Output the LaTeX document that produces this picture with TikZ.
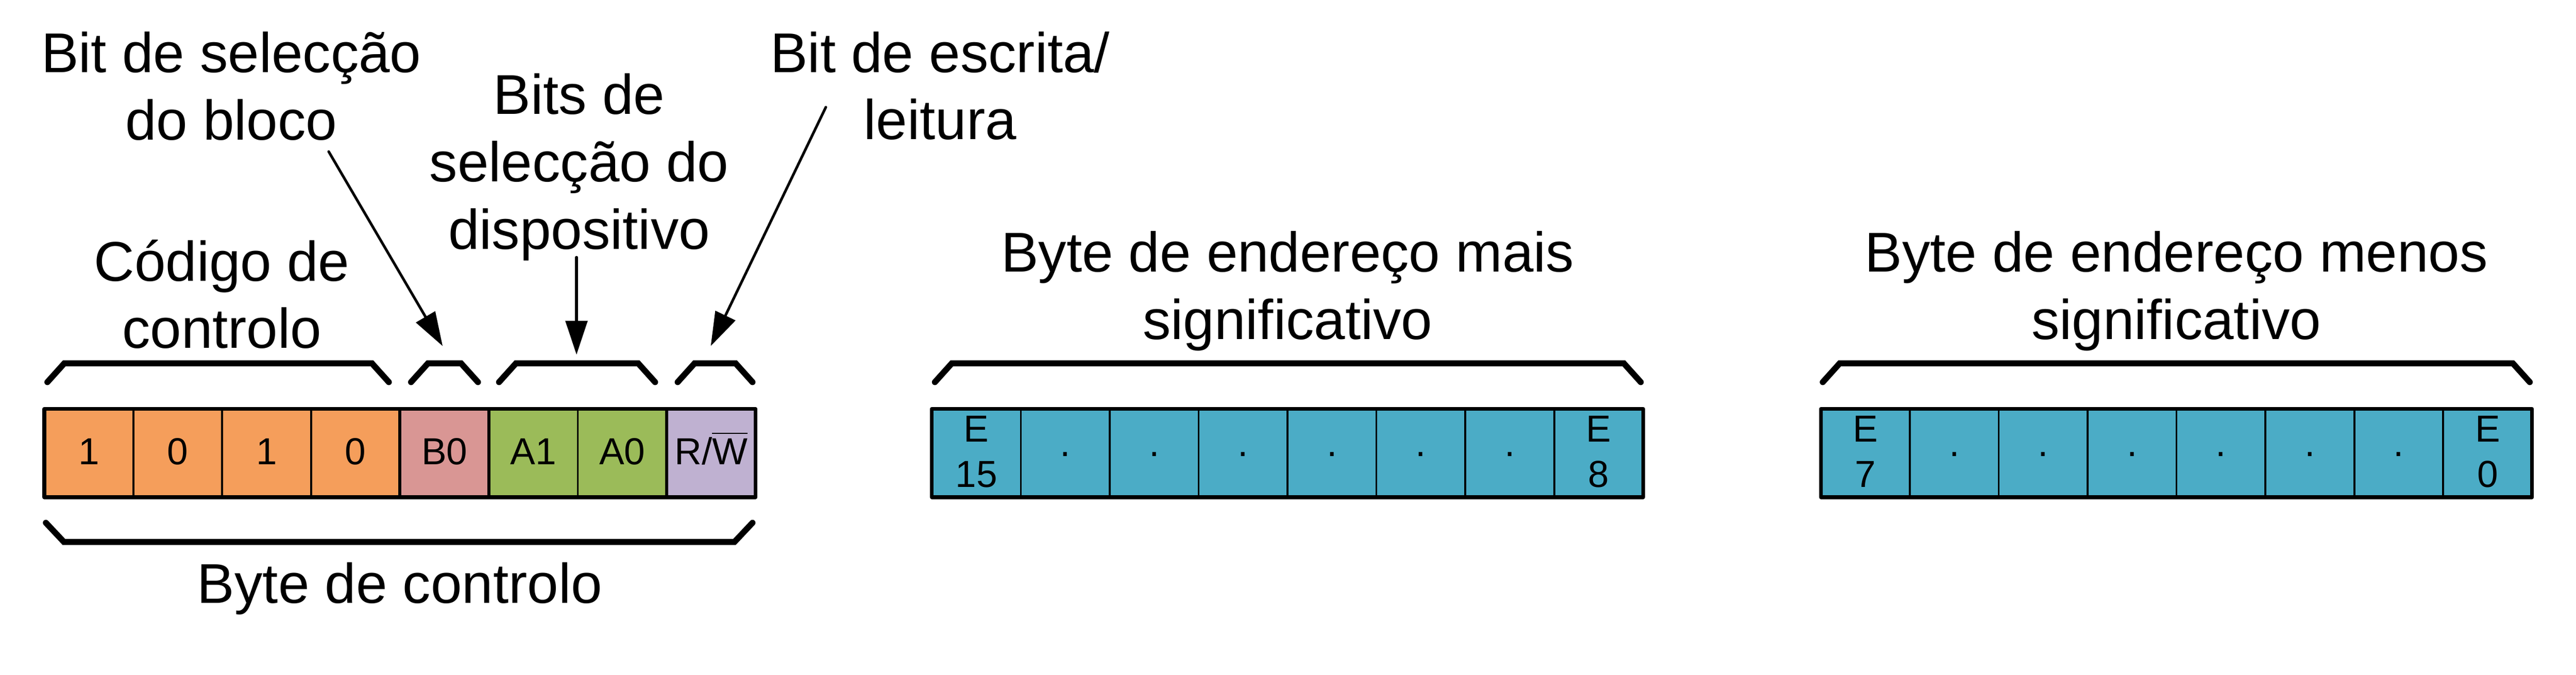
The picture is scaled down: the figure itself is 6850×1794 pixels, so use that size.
\documentclass[tikz,border=0pt]{standalone}
\usepackage{fontspec}
\setmainfont{Liberation Sans}
\usetikzlibrary{arrows.meta}

\definecolor{codigo}{HTML}{F59E5B}
\definecolor{bloco}{HTML}{D99694}
\definecolor{disp}{HTML}{9BBB59}
\definecolor{escrita}{HTML}{BFB1D1}
\definecolor{endereco}{HTML}{4BACC6}

% W com barra por cima
\newcommand{\barW}{\setbox0\hbox{W}\rlap{\rule[8.1mm]{\wd0}{0.35mm}}W}

\tikzset{
  bitcell/.style={draw, line width=0.5mm, minimum width=23.64mm,
    minimum height=23.5mm, inner sep=0pt, outer sep=0pt,
    font=\fontsize{28.45pt}{34.14pt}\selectfont,
    text height=7.2mm, text depth=1.1mm},
  twoline/.style={align=center, text height=19.2mm},
  legenda/.style={anchor=base, align=center,
    font=\fontsize{42.39pt}{50.93pt}\selectfont},
  chaveta/.style={line width=1.6mm, line cap=round, line join=miter},
  seta/.style={line width=0.7mm, line cap=round,
    -{Triangle[length=9mm, width=5.8mm]}},
  moldura/.style={line width=1mm, line join=round}
}

\begin{document}
\begin{tikzpicture}[x=0.1mm, y=-0.1mm]
  \useasboundingbox (0,0) rectangle (6850,1794);

  % byte de controlo
  \foreach \i/\bit/\cor in {0/1/codigo,1/0/codigo,2/1/codigo,3/0/codigo,
      4/B0/bloco,5/A1/disp,6/A0/disp,7/{R/\barW}/escrita}
    \node[bitcell, fill=\cor] (ctl\i) at (236.2+236.4*\i, 1204.5) {\bit};
  \draw[line width=0.8mm] (ctl0.north west) rectangle (ctl3.south east)
    (ctl5.north west) rectangle (ctl6.south east);
  \draw[moldura] (ctl0.north west) rectangle (ctl7.south east);

  % bytes de endereco
  \foreach \i/\bit/\extra in {0/{E\\15}/twoline,1/·/,2/·/,3/·/,4/·/,5/·/,6/·/,7/{E\\8}/twoline}
    \node[bitcell, fill=endereco, \extra] (msb\i) at (2596.2+236.4*\i, 1204.5) {\bit};
  \draw[moldura] (msb0.north west) rectangle (msb7.south east);
  \foreach \i/\bit/\extra in {0/{E\\7}/twoline,1/·/,2/·/,3/·/,4/·/,5/·/,6/·/,7/{E\\0}/twoline}
    \node[bitcell, fill=endereco, \extra] (lsb\i) at (4960.2+236.4*\i, 1204.5) {\bit};
  \draw[moldura] (lsb0.north west) rectangle (lsb7.south east);

  % chavetas
  \foreach \a/\b in {126/1034,1093/1271,1327/1742,1802/2001,2486/4363,4847/6727}
    \draw[chaveta] (\a,1016) -- (\a+45,966) -- (\b-45,966) -- (\b,1016);
  \draw[chaveta] (122,1390) -- (170,1441) -- (1953,1441) -- (2001,1390);

  % legendas (base = ultima linha)
  \node[legenda] (selbloco) at (615,372) {Bit de selecção\\do bloco};
  \node[legenda] (seldisp) at (1540,662) {Bits de\\selecção do\\dispositivo};
  \node[legenda] (escr) at (2500,371) {Bit de escrita/\\leitura};
  \node[legenda] (codctl) at (590,926) {Código de\\controlo};
  \node[legenda] (bytemais) at (3424,902) {Byte de endereço mais\\significativo};
  \node[legenda] (bytemenos) at (5787,902) {Byte de endereço menos\\significativo};
  \node[legenda] (bytectl) at (1063,1603) {Byte de controlo};

  % setas
  \coordinate (selbloco-c) at (874,403);
  \coordinate (selbloco-p) at (1177,920);
  \coordinate (seldisp-c) at (1533,684);
  \coordinate (seldisp-p) at (1533,943);
  \coordinate (escr-c) at (2196,285);
  \coordinate (escr-p) at (1890,920);
  \draw[seta] (selbloco-c) -- (selbloco-p);
  \draw[seta] (seldisp-c) -- (seldisp-p);
  \draw[seta] (escr-c) -- (escr-p);
\end{tikzpicture}
\end{document}
